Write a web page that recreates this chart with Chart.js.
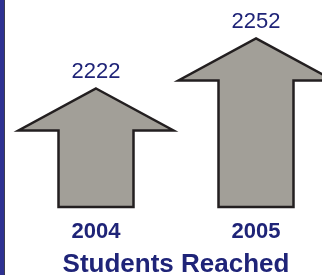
<!DOCTYPE html>
<html>
<head>
<meta charset="utf-8">
<script src="https://cdn.jsdelivr.net/npm/chart.js@4"></script>
<style>
  html, body { margin: 0; padding: 0; background: #fff; }
  #wrap { width: 322px; height: 275px; display: flex; background: #fff; overflow: hidden; }
  .b1 { width: 4px; height: 275px; background: #2e3192; }
  .b2 { width: 1px; height: 275px; background: #3c3c50; }
</style>
</head>
<body>
<div id="wrap"><div class="b1"></div><div class="b2"></div><canvas id="c" width="317" height="275"></canvas></div>
<script>
const years = ['2004', '2005'];
const studentsReached = [2222, 2252];
const chartTitle = 'Students Reached';

const Y_MIN = 2151, Y_MAX = 2275;
const X_MIN = 2003.5875, X_MAX = 2005.4125;

const NAVY = '#1f2478';
const FILL = '#a29f98';
const EDGE = '#231f20';
const FONT = '"Liberation Sans", Arial, Helvetica, sans-serif';

const arrowPlugin = {
  id: 'arrows',
  beforeDatasetDraw() { return false; },
  afterDatasetsDraw(chart) {
    const ctx = chart.ctx;
    const meta = chart.getDatasetMeta(0);
    meta.data.forEach((bar, i) => {
      const { x, y, base, width } = bar.getProps(['x', 'y', 'base', 'width'], true);
      const hw = width / 2, over = 40, headH = 42;
      ctx.save();
      ctx.beginPath();
      ctx.moveTo(x, y);
      ctx.lineTo(x + hw + over, y + headH);
      ctx.lineTo(x + hw, y + headH);
      ctx.lineTo(x + hw, base);
      ctx.lineTo(x - hw, base);
      ctx.lineTo(x - hw, y + headH);
      ctx.lineTo(x - hw - over, y + headH);
      ctx.closePath();
      ctx.fillStyle = FILL;
      ctx.fill();
      ctx.lineWidth = 2.5;
      ctx.lineJoin = 'miter';
      ctx.strokeStyle = EDGE;
      ctx.stroke();
      ctx.fillStyle = NAVY;
      ctx.font = '22px ' + FONT;
      ctx.textAlign = 'center';
      ctx.textBaseline = 'alphabetic';
      ctx.fillText(String(studentsReached[i]), x, y - 10);
      ctx.restore();
    });
  }
};

new Chart(document.getElementById('c'), {
  type: 'bar',
  data: {
    datasets: [{
      data: years.map((yr, i) => ({ x: Number(yr), y: studentsReached[i] })),
      backgroundColor: FILL,
      barThickness: 75,
      base: Y_MIN
    }]
  },
  options: {
    responsive: false,
    animation: false,
    layout: { padding: { left: 25, right: 0, top: 0, bottom: 0 } },
    plugins: { legend: { display: false }, tooltip: { enabled: false } },
    scales: {
      y: { display: false, min: Y_MIN, max: Y_MAX },
      x: {
        type: 'linear',
        offset: false,
        min: X_MIN, max: X_MAX,
        grid: { display: false, drawTicks: false },
        border: { display: false },
        ticks: {
          stepSize: 1,
          includeBounds: false,
          maxRotation: 0,
          autoSkip: false,
          color: NAVY, padding: 14,
          font: { family: FONT, size: 22, weight: 'bold', lineHeight: 1 },
          callback: (v) => years.find(yr => Number(yr) === v) || ''
        },
        title: { display: true, text: chartTitle, color: NAVY, padding: { top: -5, bottom: -3 },
                 font: { family: FONT, size: 26, weight: 'bold', lineHeight: 1 } }
      }
    }
  },
  plugins: [arrowPlugin]
});
</script>
</body>
</html>
